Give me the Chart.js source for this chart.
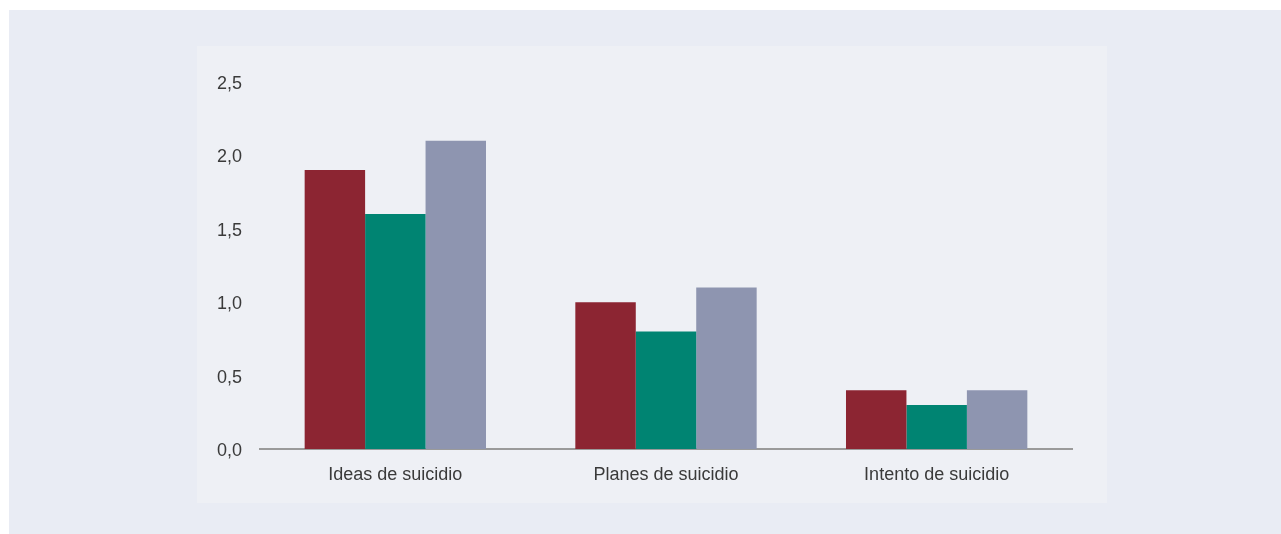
<!DOCTYPE html>
<html>
<head>
<meta charset="utf-8">
<script src="https://cdn.jsdelivr.net/npm/chart.js@4/dist/chart.umd.min.js"></script>
<style>
  html, body { margin: 0; padding: 0; background: #ffffff; }
  body { width: 1281px; height: 534px; position: relative; overflow: hidden; }
  .outer { position: absolute; left: 9px; top: 10px; width: 1272px; height: 524px; background: #e9ecf4; }
  .inner { position: absolute; left: 197px; top: 46px; width: 910px; height: 457px; background: #eef0f5; }
  .inner canvas { display: block; }
</style>
</head>
<body>
<div class="outer"></div>
<div class="inner"><canvas id="chart" width="910" height="457"></canvas></div>
<script>
const categories = ['Ideas de suicidio', 'Planes de suicidio', 'Intento de suicidio'];
const seriesA = [1.9, 1.0, 0.4];
const seriesB = [1.6, 0.8, 0.3];
const seriesC = [2.1, 1.1, 0.4];
const yTicks = [0, 0.5, 1.0, 1.5, 2.0, 2.5];

const colors = ['#8c2532', '#008472', '#8e95b0'];

document.addEventListener('DOMContentLoaded', () => {
    const ctx = document.getElementById('chart');
    const font = { family: 'Liberation Sans, Arial, sans-serif', size: 18 };

    new Chart(ctx, {
        type: 'bar',
        data: {
            labels: categories,
            datasets: [seriesA, seriesB, seriesC].map((d, i) => ({
                data: d,
                backgroundColor: colors[i],
                borderWidth: 0,
                categoryPercentage: 0.67,
                barPercentage: 1.0
            }))
        },
        options: {
            responsive: false,
            animation: false,
            layout: { padding: { left: 20, right: 35, top: 36, bottom: 0 } },
            plugins: { legend: { display: false }, tooltip: { enabled: false } },
            scales: {
                x: {
                    grid: { display: false },
                    border: { display: true, color: '#9a9a9a', width: 2 },
                    ticks: { color: '#3a3a3a', font: font, padding: 7 },
                    afterFit: (s) => { s.height = 54; }
                },
                y: {
                    min: 0,
                    max: 2.5,
                    grid: { display: false },
                    border: { display: false },
                    afterBuildTicks: (s) => { s.ticks = yTicks.map(v => ({ value: v })); },
                    ticks: {
                        color: '#3a3a3a',
                        font: font,
                        crossAlign: 'far',
                        labelOffset: 2,
                        callback: (v) => v.toFixed(1).replace('.', ',')
                    },
                    afterFit: (s) => { s.width = 43; }
                }
            }
        }
    });
});
</script>
</body>
</html>
